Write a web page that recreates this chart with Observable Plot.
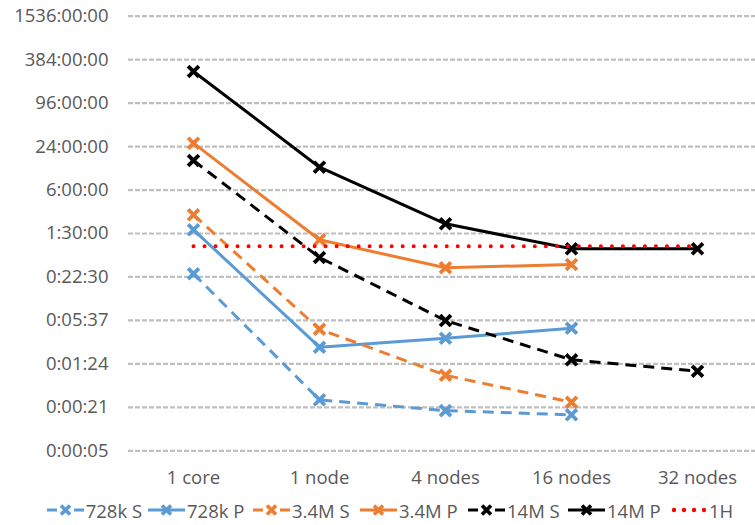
<!DOCTYPE html>
<html><head><meta charset="utf-8">
<script src="https://cdn.jsdelivr.net/npm/d3@7"></script>
<script src="https://cdn.jsdelivr.net/npm/@observablehq/plot@0.6"></script>
<style>
body{margin:0;background:#fff;font-family:"Open Sans",sans-serif;}
#chart{width:755px;height:495px;}
#legend{position:relative;width:755px;height:30px;}
.item{position:absolute;top:0;height:30px;display:flex;align-items:center;font-size:18.5px;color:#595959;white-space:nowrap;}
.item svg{margin-right:2px;}
</style></head><body>
<div id="chart"></div>
<div id="legend"></div>
<script>
// categories (x)
const categories = ["1 core", "1 node", "4 nodes", "16 nodes", "32 nodes"];
// series values, in seconds
const seriesNames = ["728k S", "728k P", "3.4M S", "3.4M P", "14M S", "14M P", "1H"];
const v728kS = [1495, 26.8, 19.0, 16.6];
const v728kP = [6076, 143.6, 191, 263];
const v34MS = [9807, 255, 58.7, 24.8];
const v34MP = [96336, 4417, 1809, 2009];
const v14MS = [55458, 2511, 336, 96, 66.7];
const v14MP = [948780, 44782, 7358, 3314, 3314];
const v1H = [3600, 3600, 3600, 3600, 3600];
// y tick values (seconds) and their labels
const yTicks = [5.2734375, 21.09375, 84.375, 337.5, 1350, 5400, 21600, 86400, 345600, 1382400, 5529600];
const yTickLabels = ["0:00:05", "0:00:21", "0:01:24", "0:05:37", "0:22:30", "1:30:00", "6:00:00", "24:00:00", "96:00:00", "384:00:00", "1536:00:00"];

const seriesValues = [v728kS, v728kP, v34MS, v34MP, v14MS, v14MP, v1H];
const styles = [
  {color: "#5B9BD5", dash: "11,7", marker: true},
  {color: "#5B9BD5", dash: null, marker: true},
  {color: "#ED7D31", dash: "11,7", marker: true},
  {color: "#ED7D31", dash: null, marker: true},
  {color: "#000000", dash: "11,7", marker: true},
  {color: "#000000", dash: null, marker: true},
  {color: "#FF0000", dash: "0.01,11", marker: false, dotted: true}
];

const labelFor = d => {
  const i = yTicks.findIndex(t => Math.abs(Math.log(t / d)) < 1e-6);
  return i >= 0 ? yTickLabels[i] : "";
};

const marks = [
  Plot.ruleY(yTicks, {stroke: "#BFBFBF", strokeWidth: 2.2, strokeDasharray: "5,2"}),
  Plot.text(yTicks, {y: d => d, text: labelFor, frameAnchor: "left", dx: -20, textAnchor: "end", fill: "#595959", fontSize: 18.5}),
  Plot.axisX({tickSize: 0, tickPadding: 20, label: null})
];
seriesNames.forEach((name, i) => {
  const st = styles[i];
  const rows = seriesValues[i].map((v, j) => ({cat: categories[j], value: v}));
  marks.push(Plot.line(rows, {
    x: "cat", y: "value", stroke: st.color,
    strokeWidth: st.dotted ? 4 : 3,
    strokeDasharray: st.dash || undefined,
    strokeLinecap: st.dotted ? "round" : "butt",
    strokeLinejoin: "round"
  }));
  if (st.marker) {
    marks.push(Plot.dot(rows, {x: "cat", y: "value", symbol: "times", r: 5, stroke: st.color, strokeWidth: 3.8}));
  }
});

const chart = Plot.plot({
  width: 755, height: 495,
  marginLeft: 128, marginRight: 0, marginTop: 15.7, marginBottom: 44.7,
  style: {fontFamily: "'Open Sans', sans-serif", fontSize: "18.5px", color: "#595959", background: "#fff", overflow: "visible"},
  x: {type: "point", domain: categories, range: [192.7, 696.7], padding: 0},
  y: {type: "log", domain: [yTicks[0], yTicks[yTicks.length - 1]], axis: null},
  marks
});
document.getElementById("chart").appendChild(chart);

// legend
const legendX = [46.7, 148, 253, 360, 468, 568, 670];
const legend = document.getElementById("legend");
seriesNames.forEach((name, i) => {
  const st = styles[i];
  const div = document.createElement("div");
  div.className = "item";
  div.style.left = legendX[i] + "px";
  let svg = `<svg width="37" height="14" viewBox="0 0 37 14">`;
  if (st.dotted) {
    for (let k = 0; k < 4; k++) svg += `<circle cx="${4 + k * 10}" cy="7" r="2.2" fill="${st.color}"/>`;
  } else if (st.dash) {
    svg += `<line x1="0" y1="7" x2="10" y2="7" stroke="${st.color}" stroke-width="3"/>`;
    svg += `<line x1="27" y1="7" x2="37" y2="7" stroke="${st.color}" stroke-width="3"/>`;
  } else {
    svg += `<line x1="0" y1="7" x2="37" y2="7" stroke="${st.color}" stroke-width="3"/>`;
  }
  if (st.marker) {
    svg += `<path d="M14,2.5L23,11.5M14,11.5L23,2.5" stroke="${st.color}" stroke-width="3.6"/>`;
  }
  svg += `</svg>`;
  div.innerHTML = svg + `<span>${name}</span>`;
  legend.appendChild(div);
});
</script>
</body></html>
